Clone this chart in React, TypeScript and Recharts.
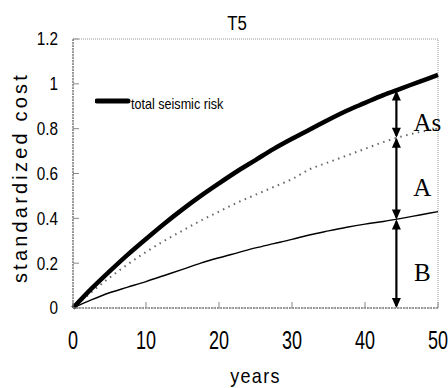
import { LineChart, Line, XAxis, YAxis, Legend, ReferenceLine, ReferenceArea, Label } from "recharts";

const years = [0, 2.5, 5, 7.5, 10, 12.5, 15, 17.5, 20, 22.5, 25, 27.5, 30, 32.5, 35, 37.5, 40, 42.5, 45, 47.5, 50];
const totalRisk = [0, 0.085, 0.163, 0.238, 0.308, 0.376, 0.44, 0.5, 0.556, 0.61, 0.66, 0.71, 0.755, 0.797, 0.84, 0.88, 0.915, 0.95, 0.98, 1.01, 1.04];
const riskA = [0, 0.07, 0.135, 0.195, 0.25, 0.3, 0.345, 0.39, 0.43, 0.47, 0.505, 0.54, 0.575, 0.62, 0.65, 0.68, 0.71, 0.74, 0.765, 0.785, 0.8];
const riskB = [0, 0.036, 0.068, 0.093, 0.118, 0.145, 0.172, 0.2, 0.224, 0.246, 0.268, 0.287, 0.306, 0.327, 0.344, 0.36, 0.374, 0.386, 0.4, 0.415, 0.43];

const xTicks = [0, 10, 20, 30, 40, 50];
const yTicks = [0, 0.2, 0.4, 0.6, 0.8, 1, 1.2];

// the arrows at year ~44
const arrowYear = 44.3;
const arrowBounds = [0, 0.395, 0.76, 0.97];
const arrowLabels = ["B", "A", "As"];

const data = years.map((y, i) => ({ year: y, total: totalRisk[i], a: riskA[i], b: riskB[i] }));

const sans = "'Liberation Sans', Arial, sans-serif";

function arrowHead(x: number, y: number, dir: number) {
  // dir: -1 points up, 1 points down
  const len = 10;
  const half = 4.5;
  return <polygon points={`${x},${y} ${x - half},${y - dir * len} ${x + half},${y - dir * len}`} fill="#000" />;
}

function makeArrow(label: string) {
  return (props: any) => {
    const { x1, y1, x2, y2 } = props;
    const top = Math.min(y1, y2);
    const bottom = Math.max(y1, y2);
    return (
      <g>
        <line x1={x1} y1={top + 2} x2={x2} y2={bottom - 2} stroke="#000" strokeWidth={2.2} />
        {arrowHead(x1, top, -1)}
        {arrowHead(x1, bottom, 1)}
        <text
          x={x1 + (label === "As" ? 31 : 26)}
          y={(top + bottom) / 2 + 17}
          textAnchor="middle"
          fontFamily="'Liberation Serif', 'DejaVu Serif', serif"
          fontSize={25}
          fill="#000"
        >
          {label}
        </text>
      </g>
    );
  };
}

// condensed look of the original gothic font
function NarrowText({ x, y, size, sx, anchor, dy, children, spacing }: any) {
  return (
    <text
      transform={`translate(${x},${y}) scale(${sx},1)`}
      textAnchor={anchor}
      dy={dy}
      fontFamily={sans}
      fontSize={size}
      letterSpacing={spacing}
      fill="#000"
    >
      {children}
    </text>
  );
}

function XTick(props: any) {
  return (
    <NarrowText x={props.x} y={props.y} size={25} sx={0.72} anchor="middle" dy="0.71em">
      {props.payload.value}
    </NarrowText>
  );
}

function YTick(props: any) {
  return (
    <NarrowText x={props.x} y={props.y} size={18} sx={0.85} anchor="end" dy="0.36em">
      {props.payload.value}
    </NarrowText>
  );
}

function LegendBox(props: any) {
  const items = (props.payload || []).filter((p: any) => p.type !== "none");
  return (
    <svg width={150} height={20}>
      {items.map((p: any) => (
        <g key={p.value}>
          <line x1={2} y1={7} x2={33} y2={7} stroke="#000" strokeWidth={5} strokeLinecap="round" />
          <NarrowText x={36} y={15} size={14} sx={0.9} anchor="start">
            {p.value}
          </NarrowText>
        </g>
      ))}
    </svg>
  );
}

function YTitle(props: any) {
  const vb = props.viewBox || { x: 0, y: 39, width: 73, height: 269 };
  const cx = vb.x + 20;
  const cy = vb.y + vb.height / 2 + 4;
  return (
    <text
      x={cx}
      y={cy}
      transform={`rotate(-90, ${cx}, ${cy})`}
      textAnchor="middle"
      dominantBaseline="central"
      fontFamily={sans}
      fontSize={20}
      letterSpacing={3.2}
      fill="#000"
    >
      standardized cost
    </text>
  );
}

function XTitle(props: any) {
  const vb = props.viewBox || { x: 73, y: 308, width: 365, height: 80 };
  return (
    <NarrowText x={vb.x + vb.width / 2} y={vb.y + vb.height - 5} size={20} sx={0.9} anchor="middle" spacing={1.5}>
      years
    </NarrowText>
  );
}

export default function App() {
  return (
    <div style={{ position: "absolute", left: 0, top: 0, width: 448, height: 388, background: "#fff" }}>
      <LineChart width={448} height={388} data={data} margin={{ top: 39, right: 10, left: 0, bottom: 0 }}>
        <NarrowText x={237} y={30} size={21} sx={0.8} anchor="middle">
          T5
        </NarrowText>
        <ReferenceArea x1={0} x2={50} y1={0} y2={1.2} fill="none" stroke="#9a9a9a" strokeDasharray="1 1" />
        <XAxis
          dataKey="year"
          type="number"
          domain={[0, 50]}
          ticks={xTicks}
          height={80}
          tickSize={-6}
          tickMargin={29}
          axisLine={{ stroke: "#555", strokeDasharray: "2 1" }}
          tickLine={{ stroke: "#888" }}
          tick={<XTick />}
        >
          <Label content={<XTitle />} />
        </XAxis>
        <YAxis
          type="number"
          domain={[0, 1.2]}
          ticks={yTicks}
          width={73}
          tickSize={-6}
          tickMargin={21}
          axisLine={{ stroke: "#555", strokeDasharray: "2 1" }}
          tickLine={{ stroke: "#888" }}
          tick={<YTick />}
          label={<YTitle />}
        />
        <Legend
          layout="horizontal"
          verticalAlign="middle"
          align="center"
          content={<LegendBox />}
          wrapperStyle={{ left: 95, top: 94, width: 150, height: 20 }}
        />
        <Line type="monotone" dataKey="b" name="B" stroke="#000" strokeWidth={1.4} dot={false} legendType="none" isAnimationActive={false} />
        <Line type="monotone" dataKey="a" name="A" stroke="#666" strokeWidth={2} strokeDasharray="1.5 4.5" dot={false} legendType="none" isAnimationActive={false} />
        <Line type="monotone" dataKey="total" name="total seismic risk" stroke="#000" strokeWidth={4.5} dot={false} isAnimationActive={false} />
        {arrowLabels.map((lab, i) => (
          <ReferenceLine
            key={lab}
            segment={[
              { x: arrowYear, y: arrowBounds[i] },
              { x: arrowYear, y: arrowBounds[i + 1] },
            ]}
            shape={makeArrow(lab)}
          />
        ))}
      </LineChart>
    </div>
  );
}
